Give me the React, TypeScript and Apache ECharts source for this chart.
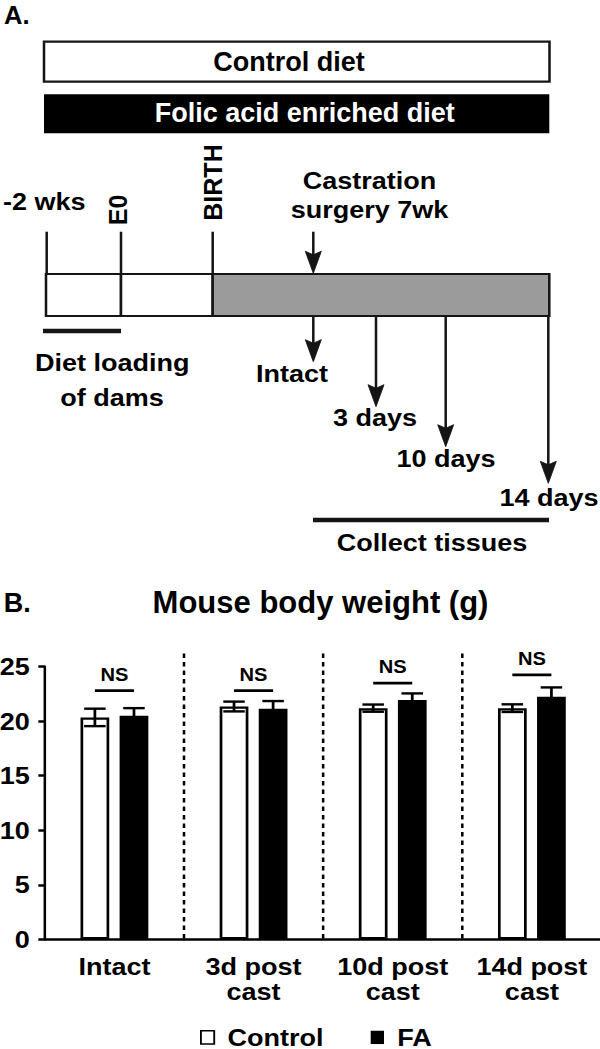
import React, { useEffect, useRef } from "react";
import * as echarts from "echarts";

// ---------- data ----------
const categories = ["Intact", "3d post\ncast", "10d post\ncast", "14d post\ncast"];
const seriesNames = ["Control", "FA"];
const controlMean = [20.35, 21.35, 21.2, 21.2];
const controlSem = [0.8, 0.45, 0.33, 0.35];
const faMean = [20.5, 21.15, 21.95, 22.25];
const faSem = [0.7, 0.7, 0.6, 0.85];
const nsLevel = [22.8, 22.8, 23.5, 24.25];
const nsLabels = ["NS", "NS", "NS", "NS"];
const yRange = [0, 25];
const yStep = 5;
const dietLabels = ["Control diet", "Folic acid enriched diet"];
const timelineMarks = ["-2 wks", "E0", "BIRTH"];
const collectPoints = ["Intact", "3 days", "10 days", "14 days"];

// ---------- layout helpers ----------
const W = 522;
const S = 600 / W; // the figure is stretched horizontally
const X = (px: number) => px / S;
const FONT = "'Liberation Sans', Arial, Helvetica, sans-serif";
const INK = "#151515";
const BAR_W = 25;
const BAR_GAP = 0.36;
const OFFSET = (BAR_W * (1 + BAR_GAP)) / 2;
const CAP = X(21.5);
const DIVIDER_TOP = 26.2;

const txt = (text: string, x: number, y: number, o: any = {}) => ({
  type: "text",
  x: X(x),
  y,
  silent: true,
  rotation: o.rotation || 0,
  scaleX: o.scaleX || 1,
  scaleY: o.scaleY || 1,
  style: {
    text,
    fill: o.fill || "#000",
    fontSize: o.size || 23.5,
    fontWeight: "bold",
    fontFamily: FONT,
    align: o.align || "center",
    verticalAlign: "middle",
  },
});

const vline = (x: number, y1: number, y2: number, w = 2.2) => ({
  type: "line",
  silent: true,
  shape: { x1: X(x), y1, x2: X(x), y2 },
  style: { stroke: INK, lineWidth: w },
});

const hline = (x1: number, x2: number, y: number, w = 2.2) => ({
  type: "line",
  silent: true,
  shape: { x1: X(x1), y1: y, x2: X(x2), y2: y },
  style: { stroke: INK, lineWidth: w },
});

const downArrow = (x: number, y1: number, tip: number) => [
  vline(x, y1, tip - 16),
  {
    type: "polygon",
    silent: true,
    shape: {
      points: [
        [X(x), tip],
        [X(x - 8), tip - 22],
        [X(x), tip - 18.5],
        [X(x + 8), tip - 22],
      ],
    },
    style: { fill: INK, stroke: INK, lineWidth: 0.8 },
  },
];

const box = (x1: number, x2: number, y1: number, y2: number, fill: string, w = 2.2) => ({
  type: "rect",
  silent: true,
  shape: { x: X(x1), y: y1, width: X(x2 - x1), height: y2 - y1 },
  style: { fill, stroke: INK, lineWidth: w },
});

const graphics: any[] = [
  // Panel A
  txt("A.", 4, 14.5, { align: "left", size: 25.5, scaleX: 1 / S }),
  box(44, 549.5, 41.7, 81.7, "#fff"),
  txt(dietLabels[0], 289, 61.7, { size: 27, scaleX: 1 / S }),
  {
    type: "rect",
    silent: true,
    shape: { x: X(44), y: 94.3, width: X(505.3), height: 39 },
    style: { fill: "#000" },
  },
  txt(dietLabels[1], 304.7, 113, { size: 27, scaleX: 1 / S, fill: "#fff" }),

  // timeline ticks and labels
  txt(timelineMarks[0], 3, 201.5, { align: "left" }),
  txt(timelineMarks[1], 118.3, 210, { size: 25, rotation: Math.PI / 2, scaleY: 1 / S }),
  txt(timelineMarks[2], 213.3, 182.5, { size: 25, rotation: Math.PI / 2, scaleY: 1 / S }),
  vline(46.7, 231.7, 274),
  vline(121, 231.7, 274),
  vline(212.7, 231.7, 274),
  box(46, 121, 274, 316, "#fff"),
  box(121, 212.7, 274, 316, "#fff"),
  box(212.7, 549.3, 274, 316, "#9b9b9b"),

  txt("Castration", 369.5, 181),
  txt("surgery 7wk", 369.5, 210),
  ...downArrow(313.3, 231.7, 273.3),

  ...downArrow(313.3, 316, 361.7),
  ...downArrow(376, 316, 406.7),
  ...downArrow(445.7, 316, 446.7),
  ...downArrow(548.3, 316, 483.3),
  txt(collectPoints[0], 292, 374),
  txt(collectPoints[1], 375, 418),
  txt(collectPoints[2], 446, 459),
  txt(collectPoints[3], 549, 498),

  hline(43, 121, 331, 4.5),
  txt("Diet loading", 112.3, 363),
  txt("of dams", 112, 397.5),

  hline(313, 549, 520, 4.5),
  txt("Collect tissues", 432, 542.5),

  // Panel B
  txt("B.", 3.8, 603, { align: "left", size: 27, scaleX: 1 / S }),
  txt("Mouse body weight (g)", 320.5, 602, { size: 31, scaleX: 1 / S }),
];

function errorSeries(name: string, means: number[], sems: number[], dir: number) {
  return {
    name,
    type: "custom",
    z: 5,
    silent: true,
    encode: { x: 0, y: 1 },
    data: means.map((m, i) => [i, m, sems[i]]),
    renderItem: (params: any, api: any) => {
      const i = api.value(0);
      const m = api.value(1);
      const e = api.value(2);
      const cx = api.coord([i, m])[0] + dir * OFFSET;
      const top = api.coord([i, m + e])[1];
      const bot = api.coord([i, m - e])[1];
      const hw = CAP / 2;
      const style = { stroke: "#000", lineWidth: 2.4 };
      return {
        type: "group",
        children: [
          { type: "line", shape: { x1: cx, y1: top, x2: cx, y2: bot }, style },
          { type: "line", shape: { x1: cx - hw, y1: top, x2: cx + hw, y2: top }, style },
          { type: "line", shape: { x1: cx - hw, y1: bot, x2: cx + hw, y2: bot }, style },
        ],
      };
    },
  };
}

const option: any = {
  animation: false,
  backgroundColor: "#fff",
  textStyle: { fontFamily: FONT },
  graphic: { elements: graphics },
  legend: {
    data: [
      { name: seriesNames[0], itemStyle: { color: "#fff", borderColor: "#000", borderWidth: 1.6 } },
      { name: seriesNames[1], itemStyle: { color: "#000", borderColor: "#000", borderWidth: 0 } },
    ],
    left: X(200),
    top: 1025.4,
    padding: 0,
    icon: "rect",
    itemWidth: X(13.3),
    itemHeight: 13.3,
    itemGap: 41,
    selectedMode: false,
    textStyle: {
      fontSize: 23.5,
      lineHeight: 20,
      fontWeight: "bold",
      fontFamily: FONT,
      color: "#000",
      padding: [0, 0, 0, 6.6],
    },
  },
  grid: {
    left: X(44.85),
    top: 666.7,
    width: X(556.6),
    height: 272.6,
    containLabel: false,
    outerBoundsMode: "none",
  },
  xAxis: {
    type: "category",
    data: categories,
    axisLine: { lineStyle: { color: "#000", width: 2.5 } },
    axisTick: { show: false },
    splitLine: { show: false },
    axisLabel: {
      interval: 0,
      margin: 14.5,
      color: "#000",
      fontSize: 23.5,
      fontWeight: "bold",
      fontFamily: FONT,
      lineHeight: 25,
    },
  },
  yAxis: {
    type: "value",
    min: yRange[0],
    max: yRange[1],
    interval: yStep,
    axisLine: { show: true, lineStyle: { color: "#000", width: 2.2 } },
    axisTick: { show: true, length: X(6.5), lineStyle: { color: "#000", width: 2.5 } },
    splitLine: { show: false },
    axisLabel: {
      margin: X(15),
      color: "#000",
      fontSize: 23.5,
      fontWeight: "bold",
      fontFamily: FONT,
    },
  },
  series: [
    {
      name: seriesNames[0],
      type: "bar",
      data: controlMean,
      barWidth: BAR_W,
      barGap: `${BAR_GAP * 100}%`,
      itemStyle: { color: "#fff", borderColor: "#000", borderWidth: 2.35 },
      z: 2,
    },
    {
      name: seriesNames[1],
      type: "bar",
      data: faMean,
      barWidth: BAR_W,
      barGap: `${BAR_GAP * 100}%`,
      itemStyle: { color: "#000", borderColor: "#000", borderWidth: 2.35 },
      z: 2,
    },
    errorSeries("Control SEM", controlMean, controlSem, -1),
    errorSeries("FA SEM", faMean, faSem, 1),
    {
      name: "dividers",
      type: "custom",
      z: 4,
      silent: true,
      encode: { x: 0, y: 1 },
      data: categories.slice(0, -1).map((_, i) => [i, 0]),
      renderItem: (params: any, api: any) => {
        const base = api.coord([api.value(0), 0]);
        const band = api.size([1, 0])[0];
        const x = base[0] + band / 2;
        const yTop = api.coord([api.value(0), DIVIDER_TOP])[1];
        return {
          type: "line",
          shape: { x1: x, y1: yTop, x2: x, y2: base[1] },
          style: { stroke: "#000", lineWidth: 2.2, lineDash: [4.5, 4] },
        };
      },
    },
    {
      name: "significance",
      type: "custom",
      z: 5,
      silent: true,
      encode: { x: 0, y: 1 },
      data: nsLevel.map((v, i) => [i, v]),
      renderItem: (params: any, api: any) => {
        const c = api.coord([api.value(0), api.value(1)]);
        return {
          type: "group",
          children: [
            {
              type: "line",
              shape: { x1: c[0] - OFFSET, y1: c[1], x2: c[0] + OFFSET, y2: c[1] },
              style: { stroke: "#000", lineWidth: 2.7 },
            },
            {
              type: "text",
              x: c[0],
              y: c[1] - 16,
              style: {
                text: nsLabels[params.dataIndex],
                fill: "#000",
                fontSize: 17.5,
                fontWeight: "bold",
                fontFamily: FONT,
                align: "center",
                verticalAlign: "middle",
              },
            },
          ],
        };
      },
    },
  ],
};

export default function App() {
  const ref = useRef<HTMLDivElement>(null);
  useEffect(() => {
    if (!ref.current) return;
    const chart = echarts.init(ref.current, null, { renderer: "svg", width: W, height: 1049 });
    chart.setOption(option);
    return () => chart.dispose();
  }, []);
  return (
    <div
      ref={ref}
      style={{
        position: "absolute",
        left: 0,
        top: 0,
        width: W,
        height: 1049,
        transform: `scaleX(${S})`,
        transformOrigin: "0 0",
        background: "#fff",
      }}
    />
  );
}
